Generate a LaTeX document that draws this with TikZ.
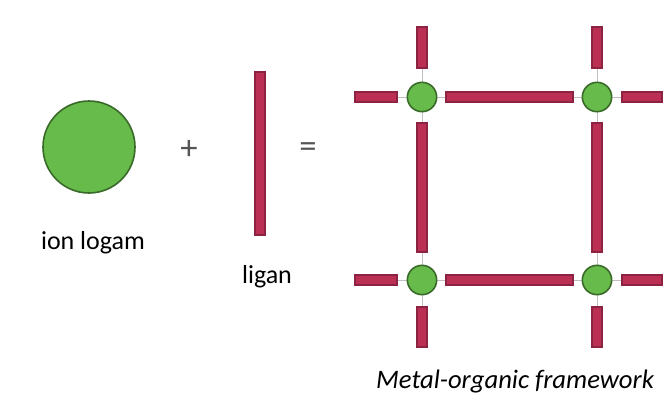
\documentclass[tikz,border=0pt]{standalone}
\usepackage{fontspec}
\setmainfont{Carlito}
\definecolor{iongreen}{HTML}{66BB4A}
\definecolor{ionedge}{HTML}{3A6A2A}
\definecolor{barfill}{HTML}{BC2F55}
\definecolor{baredge}{HTML}{8C2340}
\definecolor{signgray}{HTML}{555555}
\begin{document}
\begin{tikzpicture}[x=0.75pt,y=-0.75pt,
  ion/.style={circle,fill=iongreen,draw=ionedge,line width=1.2pt,inner sep=0pt},
  bar/.style={fill=barfill,draw=baredge,line width=0.8pt},
  hair/.style={draw=black!25,line width=0.4pt},
  lbl/.style={font=\fontsize{19.5}{23}\selectfont,inner sep=0pt}]
\useasboundingbox (0,0) rectangle (664,400);
% reactants
\node[ion,minimum size=69pt] (ion) at (89,147) {};
\node[font=\fontsize{26}{26}\selectfont,text=signgray] (plus) at (189,150) {+};
\draw[bar] (255,72) rectangle (265,235);
\coordinate (lig) at (260,153);
\node[font=\fontsize{26}{26}\selectfont,text=signgray] (eq) at (308,150) {=};
\node[lbl] (l1) at (93,243) {ion logam};
\node[lbl] (l2) at (267,277) {ligan};
% framework hairlines
\foreach \y in {97,280} \draw[hair] (355,\y) -- (662,\y);
\foreach \x in {422,597} \draw[hair] (\x,27) -- (\x,347);
% horizontal bars
\foreach \y in {97,280}{
  \draw[bar] (355,\y-5) rectangle (397,\y+5);
  \draw[bar] (446,\y-5) rectangle (573,\y+5);
  \draw[bar] (622,\y-5) rectangle (662,\y+5);
}
% vertical bars
\foreach \x in {422,597}{
  \draw[bar] (\x-5,27) rectangle (\x+5,68);
  \draw[bar] (\x-5,123) rectangle (\x+5,252);
  \draw[bar] (\x-5,307) rectangle (\x+5,347);
}
% metal nodes
\node[ion,minimum size=22pt] (m1) at (422,97) {};
\node[ion,minimum size=22pt] (m2) at (597,97) {};
\node[ion,minimum size=22pt] (m3) at (422,280) {};
\node[ion,minimum size=22pt] (m4) at (597,280) {};
\node[lbl,font=\fontsize{20}{23}\selectfont\itshape] (l3) at (515,382) {Metal-organic framework};
\end{tikzpicture}
\end{document}
